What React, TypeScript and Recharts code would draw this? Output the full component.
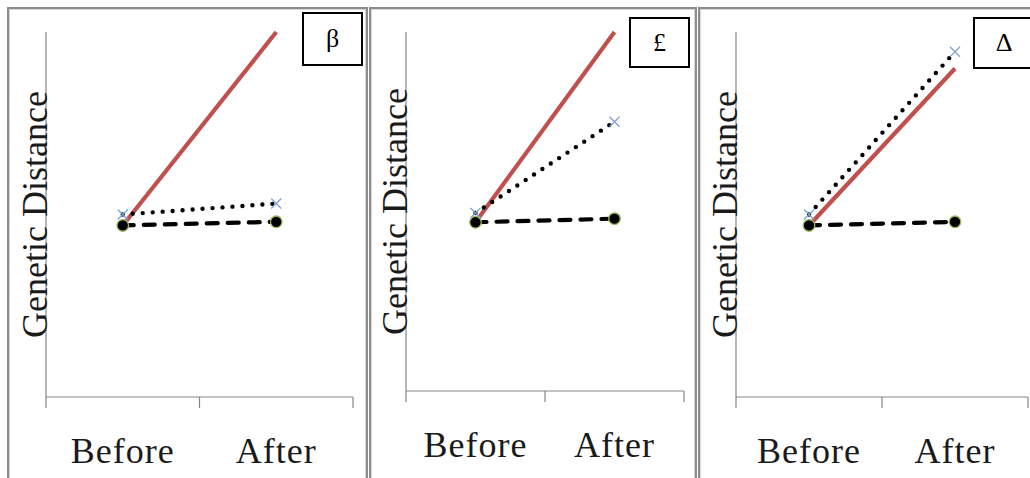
import { LineChart, Line, XAxis, YAxis, Label } from 'recharts';

// categories on the x axis
const phases = ['Before', 'After'];
// numeric x positions: band edges (ticks) and band centres (labels)
const xTicks = [0, 0.5, 1, 1.5, 2];
const yDomain = [0, 100];

// panel β
const betaSolid = [47, 100];
const betaDotted = [50, 53];
const betaDashed = [47, 48];

// panel £
const poundSolid = [47, 100];
const poundDotted = [49.6, 75];
const poundDashed = [47, 48];

// panel Δ
const deltaSolid = [47, 90];
const deltaDotted = [50, 94.6];
const deltaDashed = [47, 48];

const AXIS_GRAY = '#868686';
const SERIF = '"Liberation Serif", "Times New Roman", serif';
const PAGE_H = 478;
const AXIS_BOX = 1; // thickness given to each axis box

function buildRows(solid: number[], dotted: number[], dashed: number[]) {
  return phases.map((phase, i) => ({
    pos: i + 0.5,
    phase,
    solid: solid[i],
    dotted: dotted[i],
    dashed: dashed[i],
  }));
}

function BottomTick(props: any) {
  const { x, y, payload } = props;
  const v = payload.value;
  if (Number.isInteger(v)) {
    return <line x1={x} x2={x} y1={y} y2={y + 11} stroke={AXIS_GRAY} strokeWidth={1.2} />;
  }
  return (
    <text
      x={x}
      y={y + 66}
      textAnchor="middle"
      fontFamily={SERIF}
      fontSize={36}
      letterSpacing={1}
      fill="#1a1a1a"
    >
      {phases[Math.floor(v)]}
    </text>
  );
}

function YTitle(props: any) {
  const vb = props.viewBox;
  const x = vb.x + vb.width + 1;
  const y = vb.y + vb.height / 2;
  return (
    <text
      x={x}
      y={y}
      transform={`rotate(-90, ${x}, ${y})`}
      textAnchor="middle"
      fontFamily={SERIF}
      fontSize={36}
      fill="#1a1a1a"
    >
      Genetic Distance
    </text>
  );
}

function CrossDot(props: any) {
  const { cx, cy, index } = props;
  const s = 5;
  return (
    <path
      key={`cross-${index}`}
      d={`M${cx - s},${cy - s}L${cx + s},${cy + s}M${cx - s},${cy + s}L${cx + s},${cy - s}`}
      stroke="#7ea3d6"
      strokeWidth={1.3}
      fill="none"
    />
  );
}

function BlackDot(props: any) {
  const { cx, cy, index } = props;
  return <circle key={`ball-${index}`} cx={cx} cy={cy} r={5.8} fill="#000" stroke="#9bbb59" strokeWidth={1.3} />;
}

const panels = [
  {
    tag: 'β',
    rows: buildRows(betaSolid, betaDotted, betaDashed),
    frame: { left: 7, width: 361 },
    chart: { left: 8, width: 360 },
    plot: { left: 46, right: 353, top: 32, bottom: 397 },
    tagBox: { left: 302, top: 12, width: 61, height: 54 },
  },
  {
    tag: '£',
    rows: buildRows(poundSolid, poundDotted, poundDashed),
    frame: { left: 369, width: 328 },
    chart: { left: 371, width: 326 },
    plot: { left: 406, right: 684, top: 32, bottom: 391 },
    tagBox: { left: 629, top: 17, width: 61, height: 51 },
  },
  {
    tag: 'Δ',
    rows: buildRows(deltaSolid, deltaDotted, deltaDashed),
    frame: { left: 698, width: 345 },
    chart: { left: 700, width: 330 },
    plot: { left: 736, right: 1028, top: 32, bottom: 397 },
    tagBox: { left: 973, top: 17, width: 62, height: 52 },
  },
];

function Panel({ p }: { p: (typeof panels)[number] }) {
  const margin = {
    top: p.plot.top,
    left: p.plot.left - p.chart.left - AXIS_BOX,
    right: p.chart.left + p.chart.width - p.plot.right,
    bottom: PAGE_H - p.plot.bottom - AXIS_BOX,
  };
  return (
    <div style={{ position: 'absolute', left: p.chart.left, top: 0 }}>
      <LineChart width={p.chart.width} height={PAGE_H} data={p.rows} margin={margin}>
        <XAxis
          dataKey="pos"
          type="number"
          domain={[0, 2]}
          ticks={xTicks}
          interval={0}
          height={AXIS_BOX}
          tickSize={0}
          tickMargin={0}
          tickLine={false}
          axisLine={{ stroke: AXIS_GRAY, strokeWidth: 1.2 }}
          tick={<BottomTick />}
        />
        <YAxis
          type="number"
          domain={yDomain}
          width={AXIS_BOX}
          tick={false}
          tickLine={false}
          axisLine={{ stroke: AXIS_GRAY, strokeWidth: 1.2 }}
        >
          <Label content={<YTitle />} />
        </YAxis>
        <Line
          dataKey="solid"
          stroke="#c0504d"
          strokeWidth={4.2}
          dot={false}
          isAnimationActive={false}
        />
        <Line
          dataKey="dotted"
          stroke="#000"
          strokeWidth={4.4}
          strokeDasharray="0 10"
          strokeLinecap="round"
          dot={CrossDot}
          isAnimationActive={false}
        />
        <Line
          dataKey="dashed"
          stroke="#000"
          strokeWidth={4.2}
          strokeDasharray="11 10"
          strokeLinecap="round"
          dot={BlackDot}
          isAnimationActive={false}
        />
      </LineChart>
    </div>
  );
}

export default function App() {
  return (
    <div
      style={{
        position: 'absolute',
        left: 0,
        top: 0,
        width: 1030,
        height: PAGE_H,
        overflow: 'hidden',
        background: '#fff',
      }}
    >
      {panels.map((p) => (
        <div
          key={`frame-${p.tag}`}
          style={{
            position: 'absolute',
            left: p.frame.left,
            top: 7,
            width: p.frame.width,
            height: 520,
            boxSizing: 'border-box',
            border: '2px solid #8c8c8c',
            boxShadow: 'inset 0 0 0 1px #d6d6d6',
          }}
        />
      ))}
      {panels.map((p) => (
        <Panel key={`chart-${p.tag}`} p={p} />
      ))}
      {panels.map((p) => (
        <div
          key={`tag-${p.tag}`}
          style={{
            position: 'absolute',
            left: p.tagBox.left,
            top: p.tagBox.top,
            width: p.tagBox.width,
            height: p.tagBox.height,
            boxSizing: 'border-box',
            border: '2px solid #000',
            background: '#fff',
            display: 'flex',
            alignItems: 'center',
            justifyContent: 'center',
            fontFamily: SERIF,
            fontSize: 26,
            color: '#000',
          }}
        >
          {p.tag}
        </div>
      ))}
    </div>
  );
}
